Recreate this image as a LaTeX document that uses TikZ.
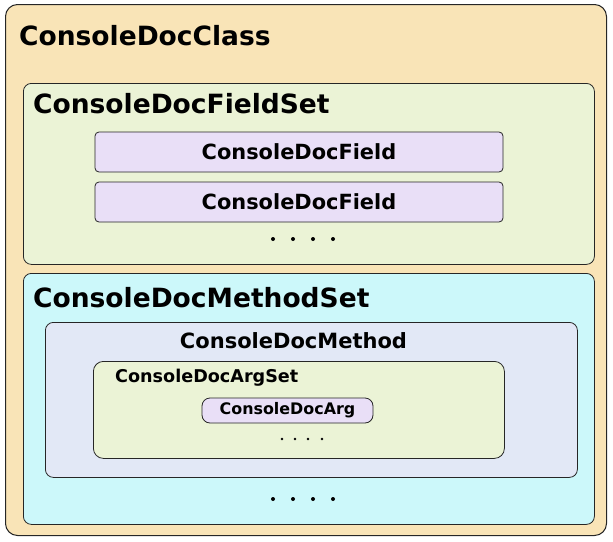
\documentclass[tikz,border=0pt]{standalone}
\usepackage{fontspec}
\setmainfont{DejaVu Sans}
\definecolor{classfill}{RGB}{249,228,183}
\definecolor{setfill}{RGB}{235,243,214}
\definecolor{itemfill}{RGB}{233,223,247}
\definecolor{methsetfill}{RGB}{204,248,250}
\definecolor{methfill}{RGB}{226,232,246}
\tikzset{
  box/.style={draw=black!85,line width=0.8pt,rounded corners=8pt,inner sep=0pt,anchor=north west},
  item/.style={draw=black!85,line width=0.8pt,fill=itemfill,inner sep=0pt},
  bigtitle/.style={font=\bfseries\fontsize{26.5}{30}\selectfont,anchor=base west,inner sep=0pt},
}
\begin{document}
\begin{tikzpicture}[x=1pt,y=-1pt]
\useasboundingbox (0,0) rectangle (613,541);
% outer class box
\node[box,fill=classfill,rounded corners=12pt,line width=1pt,minimum width=601pt,minimum height=531pt] (cls) at (5,4) {};
\node[bigtitle] (clstitle) at (19,45) {ConsoleDocClass};
% field set
\node[box,fill=setfill,minimum width=571pt,minimum height=181pt] (fieldset) at (23,83) {};
\node[bigtitle] (fieldsettitle) at (33,113) {ConsoleDocFieldSet};
\node[item,rounded corners=4pt,minimum width=408pt,minimum height=40pt,font=\bfseries\fontsize{20.9}{24}\selectfont] (fieldA) at (299,152) {ConsoleDocField};
\node[item,rounded corners=4pt,minimum width=408pt,minimum height=40pt,font=\bfseries\fontsize{20.9}{24}\selectfont] (fieldB) at (299,202) {ConsoleDocField};
\foreach \x in {273,293,313,333} \fill (\x,239) circle (2pt);
% method set
\node[box,fill=methsetfill,minimum width=571pt,minimum height=251pt] (methodset) at (23,273) {};
\node[bigtitle] (methodsettitle) at (33,307) {ConsoleDocMethodSet};
\node[box,fill=methfill,minimum width=532pt,minimum height=155pt] (method) at (45,322) {};
\node[font=\bfseries\fontsize{21}{24}\selectfont,anchor=base,inner sep=0pt] (methodtitle) at (293.5,348) {ConsoleDocMethod};
\node[box,fill=setfill,rounded corners=10pt,minimum width=411pt,minimum height=97pt] (argset) at (93,361) {};
\node[font=\bfseries\fontsize{17.6}{20}\selectfont,anchor=base west,inner sep=0pt] (argsettitle) at (115,382) {ConsoleDocArgSet};
\node[item,rounded corners=8pt,minimum width=171pt,minimum height=25pt,font=\bfseries\fontsize{15.9}{18}\selectfont] (arg) at (287.5,410.5) {ConsoleDocArg};
\foreach \x in {282,295,308,322} \fill (\x,439) circle (1.4pt);
\foreach \x in {273,293,313,333} \fill (\x,499) circle (2pt);
\end{tikzpicture}
\end{document}
